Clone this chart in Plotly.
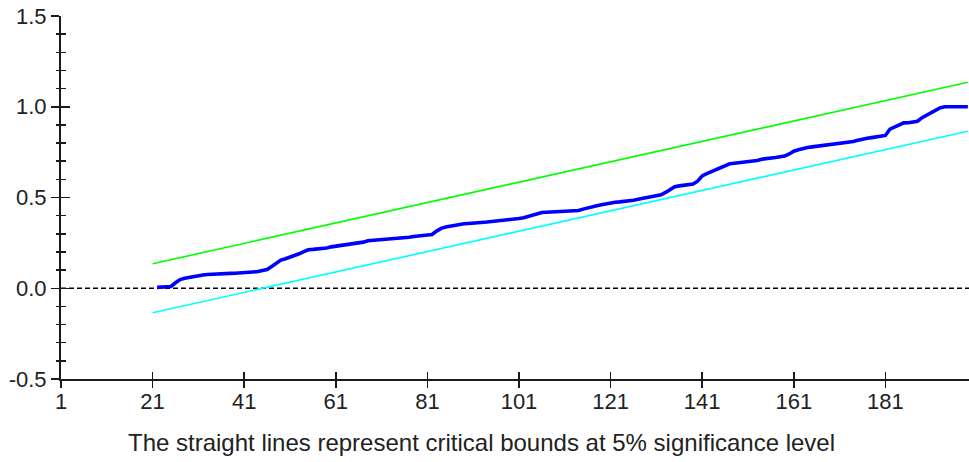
import plotly.graph_objects as go

# Observation index for the CUSUM of squares statistic
obs = list(range(22, 200))
cusumsq = [
    0.005, 0.008, 0.009, 0.010, 0.030, 0.048, 0.055, 0.060, 0.066, 0.070,   # 22-31
    0.073, 0.076, 0.078, 0.079, 0.080, 0.081, 0.082, 0.083, 0.085, 0.086,   # 32-41
    0.087, 0.088, 0.092, 0.098, 0.103, 0.120, 0.138, 0.155, 0.163, 0.171,   # 42-51
    0.180, 0.190, 0.202, 0.212, 0.214, 0.216, 0.218, 0.222, 0.228, 0.231,   # 52-61
    0.234, 0.237, 0.240, 0.243, 0.248, 0.254, 0.262, 0.264, 0.266, 0.267,   # 62-71
    0.269, 0.270, 0.271, 0.273, 0.277, 0.281, 0.285, 0.288, 0.290, 0.293,   # 72-81
    0.296, 0.315, 0.330, 0.337, 0.342, 0.348, 0.352, 0.355, 0.357, 0.358,   # 82-91
    0.360, 0.363, 0.365, 0.368, 0.370, 0.372, 0.375, 0.378, 0.381, 0.384,   # 92-101
    0.388, 0.395, 0.405, 0.411, 0.417, 0.419, 0.420, 0.421, 0.423, 0.424,   # 102-111
    0.425, 0.426, 0.428, 0.436, 0.444, 0.450, 0.455, 0.460, 0.466, 0.471,   # 112-121
    0.474, 0.476, 0.478, 0.480, 0.485, 0.490, 0.494, 0.498, 0.503, 0.508,   # 122-131
    0.515, 0.528, 0.546, 0.560, 0.564, 0.567, 0.570, 0.574, 0.590, 0.619,   # 132-141
    0.631, 0.642, 0.651, 0.660, 0.674, 0.686, 0.689, 0.691, 0.693, 0.695,   # 142-151
    0.698, 0.704, 0.711, 0.713, 0.716, 0.720, 0.724, 0.728, 0.740, 0.755,   # 152-161
    0.763, 0.771, 0.775, 0.779, 0.782, 0.785, 0.789, 0.794, 0.797, 0.800,   # 162-171
    0.803, 0.806, 0.809, 0.815, 0.822, 0.826, 0.830, 0.833, 0.837, 0.842,   # 172-181
    0.877, 0.890, 0.900, 0.911, 0.912, 0.914, 0.920, 0.940, 0.955, 0.970,   # 182-191
    0.985, 0.995, 1.000, 1.000, 1.000, 1.000, 1.000, 1.000,                 # 192-199
]

# Critical bounds (straight lines) at 5% significance level
bound_obs = [21, 199]
upper_bound = [0.135, 1.135]
lower_bound = [-0.135, 0.865]

x_tickvals = [1, 21, 41, 61, 81, 101, 121, 141, 161, 181]
y_tickvals = [-0.5, 0.0, 0.5, 1.0, 1.5]
y_ticklabels = ["-0.5", "0.0", "0.5", "1.0", "1.5"]

x_range = [1, 199.25]
y_range = [-0.5, 1.5]

FONT = "Liberation Sans, Arial, sans-serif"
TXT = "#222222"
AX = "#1a1a1a"

fig = go.Figure()

fig.add_trace(go.Scatter(x=bound_obs, y=upper_bound, mode="lines",
                         line=dict(color="#00ff00", width=1.6), hoverinfo="skip"))
fig.add_trace(go.Scatter(x=bound_obs, y=lower_bound, mode="lines",
                         line=dict(color="#00ffff", width=1.6), hoverinfo="skip"))
fig.add_trace(go.Scatter(x=obs, y=cusumsq, mode="lines",
                         line=dict(color="#0000ff", width=3.6), name="CUSUM of Squares"))
# empty trace to host the overlay axes (inner tick halves)
fig.add_trace(go.Scatter(x=[None], y=[None], xaxis="x2", yaxis="y2", showlegend=False,
                         hoverinfo="skip"))

# zero reference line
fig.add_shape(type="line", xref="paper", x0=0, x1=1, yref="y", y0=0, y1=0,
              line=dict(color="black", width=1.4, dash="5px,3px"), layer="below")

common_x = dict(range=x_range, showgrid=False, zeroline=False, fixedrange=True, automargin=False)
common_y = dict(range=y_range, showgrid=False, zeroline=False, fixedrange=True, automargin=False)

fig.update_layout(
    width=969, height=462,
    margin=dict(l=61, r=0, t=16, b=83, autoexpand=False),
    paper_bgcolor="white", plot_bgcolor="white",
    showlegend=False,
    font=dict(family=FONT, color=TXT, size=22),
    xaxis=dict(**common_x, tickmode="array", tickvals=x_tickvals,
               ticks="outside", ticklen=7, tickwidth=1.5, tickcolor=AX,
               showline=True, linecolor=AX, linewidth=2, ticklabelstandoff=-5,
               tickfont=dict(family=FONT, size=22, color=TXT)),
    yaxis=dict(**common_y, tickmode="array", tickvals=y_tickvals, ticktext=y_ticklabels,
               ticks="outside", ticklen=8, tickwidth=1.5, tickcolor=AX,
               showline=True, linecolor=AX, linewidth=2,
               minor=dict(dtick=0.1, ticks="outside", ticklen=3, tickwidth=1.5, tickcolor=AX),
               tickfont=dict(family=FONT, size=22, color=TXT)),
    xaxis2=dict(**common_x, overlaying="x", anchor="y2", side="bottom",
                tickmode="array", tickvals=x_tickvals[1:],
                ticks="inside", ticklen=7, tickwidth=1.5, tickcolor=AX,
                showticklabels=False, showline=False),
    yaxis2=dict(**common_y, overlaying="y", anchor="x2", side="left",
                tickmode="array", tickvals=y_tickvals[1:],
                ticks="inside", ticklen=9, tickwidth=1.5, tickcolor=AX,
                minor=dict(dtick=0.1, ticks="inside", ticklen=5, tickwidth=1.5, tickcolor=AX),
                showticklabels=False, showline=False),
    annotations=[dict(text="The straight lines represent critical bounds at 5% significance level",
                      xref="paper", yref="paper", x=0.463, y=-0.176,
                      xanchor="center", yanchor="middle", showarrow=False,
                      font=dict(family=FONT, size=24, color=TXT))],
)

fig.write_html(
    "out.html",
    config={"displayModeBar": False, "staticPlot": True},
    post_script="document.body.style.margin='0';document.body.style.overflow='hidden';",
)
